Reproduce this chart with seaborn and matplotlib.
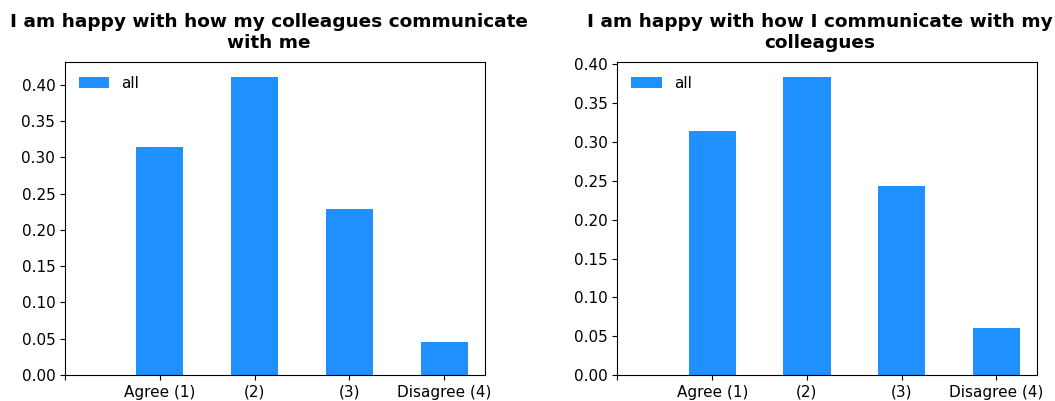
import numpy as np
import pandas as pd
import matplotlib
matplotlib.use('Agg')
import matplotlib.pyplot as plt
import seaborn as sns

# categories (first slot is empty in the original)
categorias = ["", "Agree (1)", "(2)", "(3)", "Disagree (4)"]

titulo_esq = "I am happy with how my colleagues communicate\nwith me"
valores_esq = [np.nan, 0.314, 0.411, 0.229, 0.046]

titulo_dir = "I am happy with how I communicate with my\ncolleagues"
valores_dir = [np.nan, 0.314, 0.384, 0.243, 0.060]

cor_barra = '#1E90FF'


def desenhar(ax, valores, titulo, x_titulo):
    df = pd.DataFrame({'resposta': categorias, 'fracao': valores})
    sns.barplot(data=df, x='resposta', y='fracao', order=categorias,
                color=cor_barra, saturation=1, width=0.5, label='all',
                linewidth=0, ax=ax)
    ax.set_xlim(0, 4.43)
    ax.set_xlabel('')
    ax.set_ylabel('')
    ax.set_title(titulo, fontsize=13.3, fontweight='bold', x=x_titulo, pad=10)
    ax.tick_params(labelsize=11)
    ax.legend(loc='upper left', frameon=False, fontsize=11)


fig = plt.figure(figsize=(10.55, 4.01), dpi=100)
ax1 = fig.add_axes([0.0616, 0.0648, 0.3981, 0.7806])
ax2 = fig.add_axes([0.5853, 0.0648, 0.3977, 0.7806])

desenhar(ax1, valores_esq, titulo_esq, 0.4845)
desenhar(ax2, valores_dir, titulo_dir, 0.483)

fig.savefig('out.png', dpi=100)
plt.close()
